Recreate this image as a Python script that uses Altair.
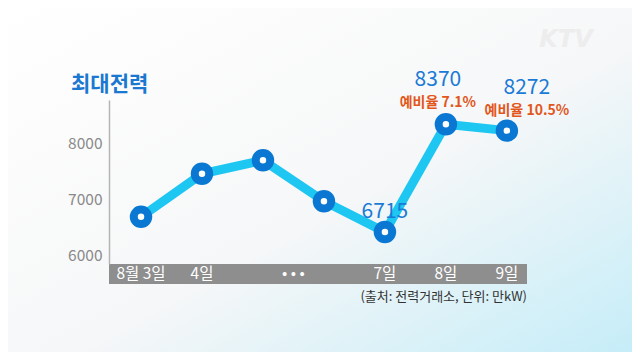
import altair as alt
import pandas as pd

# ---- data ----
idx = [0, 1, 2, 3, 4, 5, 6]
peak_plotted = [6690, 7460, 7700, 6970, 6420, 8345, 8230]

tick_pos = [0, 1, 2.5, 4, 5, 6]
tick_labels = ["8월 3일", "4일", "• • •", "7일", "8일", "9일"]

y_ticks = [6000, 7000, 8000]

value_labels = ["6715", "8370", "8272"]
value_idx = [4, 5, 6]
reserve_labels = ["예비율 7.1%", "예비율 10.5%"]
reserve_idx = [5, 6]

title_text = "최대전력"
source_text = "(출처: 전력거래소, 단위: 만kW)"

FONT = "Noto Sans CJK KR"
W, H = 418, 164
XDOM = [-0.525, 6.33]
YDOM = [5848, 8777]

xs = alt.Scale(domain=XDOM, nice=False, zero=False)
ys = alt.Scale(domain=YDOM, nice=False, zero=False)

df = pd.DataFrame({"i": idx, "v": peak_plotted})
one = pd.DataFrame({"a": [0]})
ticks_df = pd.DataFrame({"i": tick_pos, "t": tick_labels})
band_df = pd.DataFrame({"x0": [XDOM[0]], "x1": [XDOM[1]]})

yaxis = alt.Axis(
    values=y_ticks, ticks=False, grid=False, title=None, format="d",
    labelColor="#8a8a8a", labelFontSize=15.5, labelFont=FONT, labelPadding=7,
    domainColor="#b5b5b5", domainWidth=1.5, zindex=1)

bg = alt.Chart(one).mark_rect(
    color=alt.Gradient(
        gradient="linear",
        stops=[
            alt.GradientStop(color="#ffffff", offset=0),
            alt.GradientStop(color="#f6f7f8", offset=0.55),
            alt.GradientStop(color="#c6edf8", offset=1),
        ],
        x1=0, y1=0, x2=1, y2=1,
    )
).encode(x=alt.value(-101), x2=alt.value(523), y=alt.value(-92), y2=alt.value(252))

axis_layer = alt.Chart(df).mark_point(opacity=0).encode(
    x=alt.X("i:Q", scale=xs, axis=None),
    y=alt.Y("v:Q", scale=ys, axis=yaxis),
)

band = alt.Chart(band_df).mark_rect(color="#8e8e8e").encode(
    x=alt.X("x0:Q", scale=xs, axis=None), x2="x1:Q",
    y=alt.value(164), y2=alt.value(184),
)

xlab = alt.Chart(ticks_df).mark_text(
    color="white", fontSize=15.5, font=FONT, baseline="middle", align="center"
).encode(x=alt.X("i:Q", scale=xs, axis=None), y=alt.value(174), text="t:N")

line = alt.Chart(df).mark_line(color="#1ec6f2", strokeWidth=9).encode(
    x=alt.X("i:Q", scale=xs, axis=None), y=alt.Y("v:Q", scale=ys, axis=yaxis)
)

pts = alt.Chart(df).mark_point(
    shape="circle", filled=True, fill="white", stroke="#0a78d2",
    strokeWidth=8, size=210, opacity=1
).encode(x=alt.X("i:Q", scale=xs, axis=None), y=alt.Y("v:Q", scale=ys, axis=yaxis))

layers = [bg, axis_layer, band, xlab, line, pts]

val_off = [(0, -20), (-8, -44), (20, -43)]
for k in range(3):
    d = pd.DataFrame({"i": [value_idx[k]], "v": [peak_plotted[value_idx[k]]], "t": [value_labels[k]]})
    layers.append(alt.Chart(d).mark_text(
        color="#1a7ad6", fontSize=21, font=FONT, dx=val_off[k][0], dy=val_off[k][1],
        baseline="middle", align="center"
    ).encode(x=alt.X("i:Q", scale=xs, axis=None), y=alt.Y("v:Q", scale=ys, axis=yaxis), text="t:N"))

res_off = [(-8, -21), (20, -20)]
for k in range(2):
    d = pd.DataFrame({"i": [reserve_idx[k]], "v": [peak_plotted[reserve_idx[k]]], "t": [reserve_labels[k]]})
    layers.append(alt.Chart(d).mark_text(
        color="#e2561c", fontSize=14, font=FONT, fontWeight="bold", dx=res_off[k][0], dy=res_off[k][1],
        baseline="middle", align="center"
    ).encode(x=alt.X("i:Q", scale=xs, axis=None), y=alt.Y("v:Q", scale=ys, axis=yaxis), text="t:N"))

title = alt.Chart(pd.DataFrame({"t": [title_text]})).mark_text(
    color="#1a78d0", fontSize=21, font=FONT, fontWeight="bold", align="left", baseline="middle"
).encode(x=alt.value(-38), y=alt.value(-15), text="t:N")

source = alt.Chart(pd.DataFrame({"t": [source_text]})).mark_text(
    color="#333333", fontSize=13, font=FONT, align="right", baseline="middle"
).encode(x=alt.value(418), y=alt.value(197), text="t:N")

logo = alt.Chart(pd.DataFrame({"t": ["KTV"]})).mark_text(
    color="#ededed", fontSize=24, font="DejaVu Sans", fontWeight="bold", fontStyle="italic",
    align="center", baseline="middle"
).encode(x=alt.value(457), y=alt.value(-60), text="t:N")

layers += [title, source, logo]

chart = alt.layer(*layers).properties(
    width=W, height=H,
    autosize=alt.AutoSizeParams(type="none"),
    padding={"left": 101, "top": 92, "right": 105, "bottom": 88},
    background="white",
).configure_view(stroke=None)

chart.save("out.html", embed_options={"renderer": "svg", "actions": False})
